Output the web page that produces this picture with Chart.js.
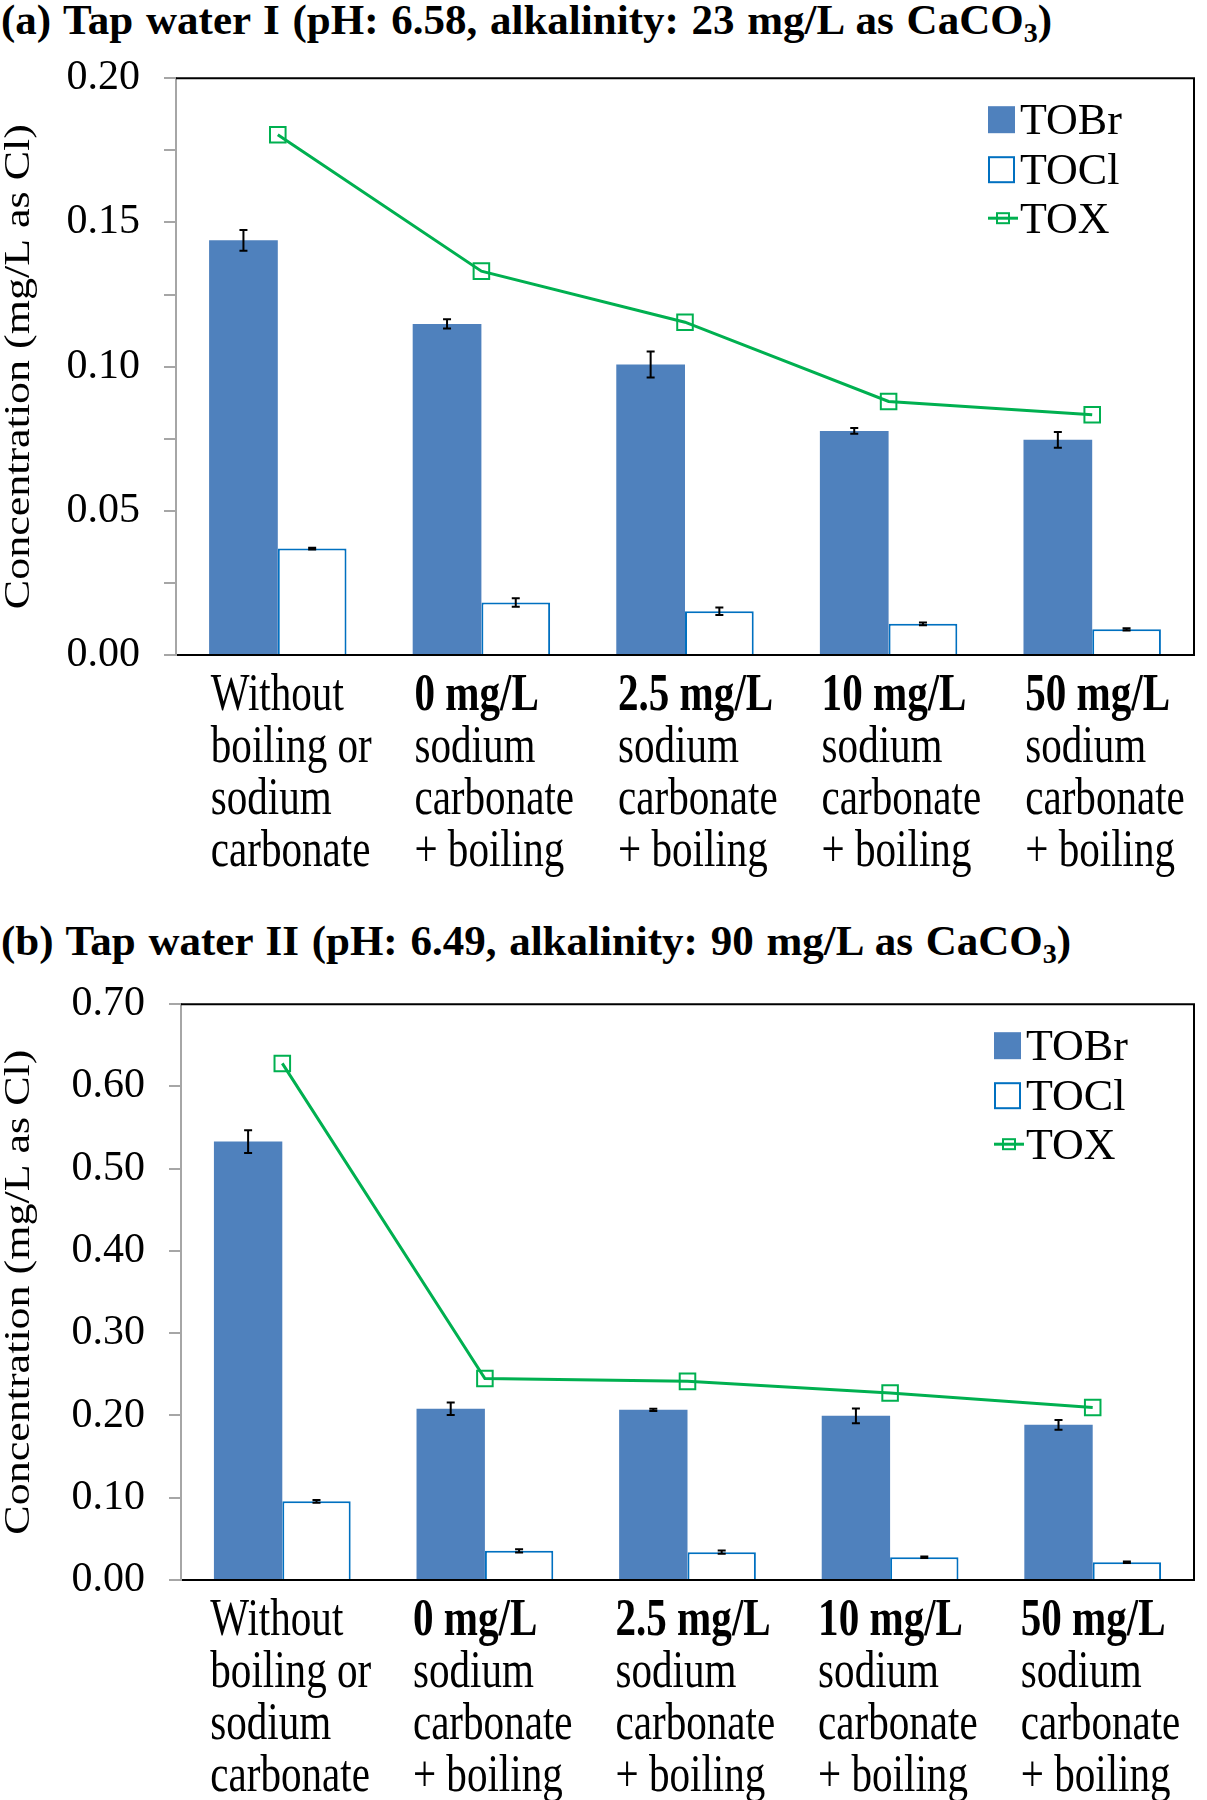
<!DOCTYPE html>
<html>
<head>
<meta charset="utf-8">
<script src="https://cdn.jsdelivr.net/npm/chart.js@4.4.1/dist/chart.umd.min.js"></script>
<style>
  body { margin: 0; background: #fff; }
  #page { position: relative; width: 1207px; height: 1800px; overflow: hidden; }
  .title { position: absolute; left: 1px; font: bold 43px/43px "Liberation Serif", "Times New Roman", serif; white-space: nowrap; color: #000; word-spacing: 2px; }
  .title sub { font-size: 28px; line-height: 0; vertical-align: -8px; }
  canvas { position: absolute; left: 0; }
</style>
</head>
<body>
<div id="page">
  <div class="title" style="top:-2px">(a) Tap water I (pH: 6.58, alkalinity: 23 mg/L as CaCO<sub>3</sub>)</div>
  <canvas id="chartA" width="1207" height="850" style="top:29px"></canvas>
  <div class="title" style="top:919px">(b) Tap water II (pH: 6.49, alkalinity: 90 mg/L as CaCO<sub>3</sub>)</div>
  <canvas id="chartB" width="1207" height="845" style="top:955px"></canvas>
</div>
<script>
// Categories (x-axis label lines)
const categories = [
  ['Without', 'boiling or', 'sodium', 'carbonate'],
  ['0 mg/L', 'sodium', 'carbonate', '+ boiling'],
  ['2.5 mg/L', 'sodium', 'carbonate', '+ boiling'],
  ['10 mg/L', 'sodium', 'carbonate', '+ boiling'],
  ['50 mg/L', 'sodium', 'carbonate', '+ boiling'],
];
const boldFirstLine = [false, true, true, true, true];
const yTitle = 'Concentration (mg/L as Cl)';

// (a) Tap water I
const tobrA = [0.1438, 0.1148, 0.1007, 0.0777, 0.0746];
const tobrErrA = [0.0036, 0.0016, 0.0045, 0.001, 0.0027];
const toclA = [0.0369, 0.0182, 0.0152, 0.0108, 0.0089];
const toclErrA = [0.0003, 0.0015, 0.0013, 0.0005, 0.0004];
const toxA = [0.1804, 0.1331, 0.1154, 0.0879, 0.0833];
const yTicksA = ['0.00', '0.05', '0.10', '0.15', '0.20'];

// (b) Tap water II
const tobrB = [0.533, 0.2082, 0.2069, 0.1996, 0.1886];
const tobrErrB = [0.0139, 0.0076, 0.0013, 0.009, 0.006];
const toclB = [0.0957, 0.0355, 0.0338, 0.0277, 0.0216];
const toclErrB = [0.0017, 0.002, 0.002, 0.001, 0.0008];
const toxB = [0.628, 0.245, 0.2415, 0.2273, 0.2098];
const yTicksB = ['0.00', '0.10', '0.20', '0.30', '0.40', '0.50', '0.60', '0.70'];

const FONT = '"Liberation Serif", "Times New Roman", serif';
const BLUE = '#4f81bd';
const BLUE_EDGE = '#0070c0';
const GREEN = '#00b050';

// squeezed text, the labels in the figure are narrow
function drawText(ctx, text, x, y, font, align, sx) {
  ctx.save();
  ctx.font = font;
  ctx.textAlign = align;
  ctx.fillStyle = '#000';
  ctx.translate(x, y);
  ctx.scale(sx, 1);
  ctx.fillText(text, 0, 0);
  ctx.restore();
}

const decor = {
  id: 'decor',
  afterDatasetsDraw(chart, args, opts) {
    const ctx = chart.ctx;
    const y = chart.scales.y;
    // error bars
    ctx.save();
    ctx.strokeStyle = '#000';
    ctx.lineWidth = 2;
    chart.data.datasets.forEach((ds, i) => {
      if (!ds.errors) return;
      chart.getDatasetMeta(i).data.forEach((bar, j) => {
        const hi = y.getPixelForValue(ds.data[j] + ds.errors[j]);
        const lo = y.getPixelForValue(ds.data[j] - ds.errors[j]);
        ctx.beginPath();
        ctx.moveTo(bar.x, hi); ctx.lineTo(bar.x, lo);
        ctx.moveTo(bar.x - 4, hi); ctx.lineTo(bar.x + 4, hi);
        ctx.moveTo(bar.x - 4, lo); ctx.lineTo(bar.x + 4, lo);
        ctx.stroke();
      });
    });
    ctx.restore();
  },
  afterDraw(chart, args, opts) {
    const ctx = chart.ctx;
    const area = chart.chartArea;
    const x = chart.scales.x;

    // top and right frame
    ctx.save();
    ctx.strokeStyle = '#000';
    ctx.lineWidth = 2;
    ctx.beginPath();
    ctx.moveTo(area.left, area.top);
    ctx.lineTo(area.right, area.top);
    ctx.lineTo(area.right, area.bottom);
    ctx.stroke();
    ctx.restore();

    // x labels
    categories.forEach((lines, i) => {
      const left = x.getPixelForValue(i) + opts.labelDx;
      lines.forEach((line, k) => {
        const bold = k === 0 && boldFirstLine[i];
        drawText(ctx, line, left, area.bottom + 55 + k * 52,
          (bold ? 'bold ' : '') + '52px ' + FONT, 'left', 0.79);
      });
    });

    // y title
    ctx.save();
    ctx.font = '44px ' + FONT;
    ctx.fillStyle = '#000';
    ctx.textAlign = 'center';
    ctx.textBaseline = 'middle';
    ctx.translate(20, (area.top + area.bottom) / 2);
    ctx.rotate(-Math.PI / 2);
    ctx.scale(1, 0.8);
    ctx.fillText(yTitle, 0, 0);
    ctx.restore();

    // legend
    const lx = area.right + opts.legendDx;
    const rows = [41, 91, 140];
    chart.data.datasets.forEach((ds, i) => {
      const ry = area.top + rows[i];
      ctx.save();
      if (i === 0) {
        ctx.fillStyle = BLUE;
        ctx.fillRect(lx, ry - 13, 27, 27);
      } else if (i === 1) {
        ctx.fillStyle = '#fff';
        ctx.strokeStyle = BLUE_EDGE;
        ctx.lineWidth = 2;
        ctx.fillRect(lx + 1, ry - 12, 25, 25);
        ctx.strokeRect(lx + 1, ry - 12, 25, 25);
      } else {
        ctx.strokeStyle = GREEN;
        ctx.lineWidth = 3;
        ctx.beginPath();
        ctx.moveTo(lx, ry); ctx.lineTo(lx + 30, ry);
        ctx.stroke();
        ctx.lineWidth = 2;
        ctx.strokeRect(lx + 9, ry - 5, 12, 10);
      }
      ctx.restore();
      drawText(ctx, ds.label, lx + 32, ry + 15, '44px ' + FONT, 'left', 1);
    });
  }
};

function makeChart(id, d) {
  const yMax = parseFloat(d.yTicks[d.yTicks.length - 1]);
  const step = parseFloat(d.yTicks[1]) / 2;
  return new Chart(document.getElementById(id), {
    type: 'bar',
    data: {
      labels: categories.map(c => c.join(' ')),
      datasets: [
        {
          label: 'TOBr', data: d.tobr, errors: d.tobrErr,
          backgroundColor: BLUE, borderWidth: 0,
          categoryPercentage: 0.675, barPercentage: 1.0, order: 1,
        },
        {
          label: 'TOCl', data: d.tocl, errors: d.toclErr,
          backgroundColor: '#ffffff', borderColor: BLUE_EDGE, borderWidth: 2,
          categoryPercentage: 0.675, barPercentage: 1.0, order: 1,
        },
        {
          type: 'line', label: 'TOX', data: d.tox,
          borderColor: GREEN, borderWidth: 3,
          pointStyle: 'rect', pointRadius: 11, pointBorderWidth: 2,
          pointBorderColor: GREEN, pointBackgroundColor: 'rgba(0,0,0,0)',
          order: 0,
        },
      ],
    },
    options: {
      responsive: false,
      animation: false,
      layout: { padding: { top: 0, right: 5, left: 0, bottom: 0 } },
      plugins: {
        legend: { display: false },
        tooltip: { enabled: false },
        decor: { labelDx: d.labelDx, legendDx: d.legendDx },
      },
      scales: {
        x: {
          ticks: { display: false },
          grid: { display: false },
          border: { color: '#000', width: 2 },
          afterFit: s => { s.height = d.xHeight; },
        },
        y: {
          min: 0,
          max: yMax,
          ticks: {
            stepSize: step,
            padding: 24,
            color: '#000',
            font: { family: FONT, size: 42 },
            callback: (v, i) => (i % 2 === 0 ? d.yTicks[i / 2] : ''),
          },
          grid: { drawOnChartArea: false, drawTicks: true, tickLength: 12, color: '#a6a6a6', lineWidth: 2 },
          border: { color: '#a6a6a6', width: 2 },
          afterFit: s => { s.width = d.left; },
        },
      },
    },
    plugins: [decor],
  });
}

makeChart('chartA', {
  tobr: tobrA, tobrErr: tobrErrA, tocl: toclA, toclErr: toclErrA, tox: toxA, yTicks: yTicksA,
  left: 176, xHeight: 224, labelDx: -67, legendDx: -206,
});
makeChart('chartB', {
  tobr: tobrB, tobrErr: tobrErrB, tocl: toclB, toclErr: toclErrB, tox: toxB, yTicks: yTicksB,
  left: 181, xHeight: 220, labelDx: -72, legendDx: -200,
});
</script>
</body>
</html>
